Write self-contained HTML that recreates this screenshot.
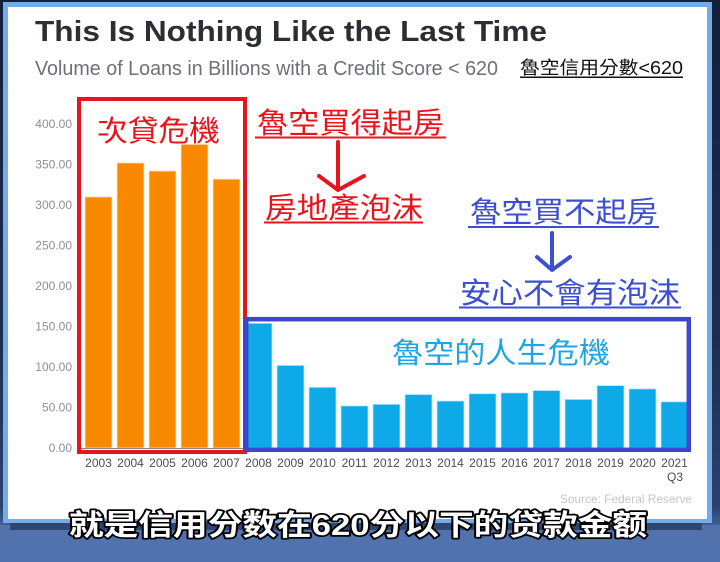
<!DOCTYPE html>
<html><head><meta charset="utf-8"><style>
html,body{margin:0;padding:0;width:720px;height:562px;overflow:hidden;background:#1b2945;}
svg{display:block;}
</style></head><body>
<svg width="720" height="562" viewBox="0 0 720 562" xmlns="http://www.w3.org/2000/svg">
<defs>
<linearGradient id="bg" x1="0" y1="0" x2="0" y2="1">
<stop offset="0" stop-color="#142039"/>
<stop offset="0.6" stop-color="#1d2d4d"/>
<stop offset="0.9" stop-color="#2a4170"/>
<stop offset="0.95" stop-color="#4a6ba6"/>
<stop offset="1" stop-color="#5c7db8"/>
</linearGradient>
</defs>
<rect x="0" y="0" width="720" height="562" fill="url(#bg)"/>
<rect x="0" y="525" width="720" height="37" fill="#5272ad"/>
<rect x="10" y="522" width="692" height="8" fill="#2f4574"/>
<!-- panel -->
<rect x="3" y="2" width="709" height="521" fill="#74acea"/>
<rect x="8" y="7" width="699" height="512" fill="#ffffff"/>

<!-- title -->
<text x="35" y="41" font-family="Liberation Sans, Arial, sans-serif" font-weight="bold" font-size="29" fill="#2b2e33" textLength="512" lengthAdjust="spacingAndGlyphs">This Is Nothing Like the Last Time</text>
<text x="35" y="75" font-family="Liberation Sans, Arial, sans-serif" font-size="20" fill="#6d7075" textLength="463" lengthAdjust="spacingAndGlyphs">Volume of Loans in Billions with a Credit Score &lt; 620</text>
<text x="520" y="74" font-family="Liberation Sans, 'Noto Sans CJK TC', sans-serif" font-size="18" fill="#111" textLength="163" lengthAdjust="spacingAndGlyphs">魯空信用分數&lt;620</text>
<rect x="520" y="76.5" width="163" height="1.5" fill="#111"/>

<!-- y axis labels -->
<g font-family="Liberation Sans, Arial, sans-serif" font-size="12" fill="#8c8f94" text-anchor="end">
<text x="72" y="452">0.00</text>
<text x="72" y="411.5">50.00</text>
<text x="72" y="371">100.00</text>
<text x="72" y="330.5">150.00</text>
<text x="72" y="290">200.00</text>
<text x="72" y="249.5">250.00</text>
<text x="72" y="209">300.00</text>
<text x="72" y="168.5">350.00</text>
<text x="72" y="128">400.00</text>
</g>

<!-- bars -->
<g fill="#f98a00" stroke="#fde4bf" stroke-width="0.8">
<rect x="85" y="196.9" width="27" height="251.1"/>
<rect x="117" y="162.9" width="27" height="285.1"/>
<rect x="149" y="171" width="27" height="277"/>
<rect x="181" y="144.3" width="27" height="303.7"/>
<rect x="213" y="179.1" width="27" height="268.9"/>
</g>
<g fill="#0eaae7" stroke="#bfe6f7" stroke-width="0.8">
<rect x="245" y="323.3" width="27" height="124.7"/>
<rect x="277" y="365.4" width="27" height="82.6"/>
<rect x="309" y="387.3" width="27" height="60.7"/>
<rect x="341" y="405.9" width="27" height="42.1"/>
<rect x="373" y="404.3" width="27" height="43.7"/>
<rect x="405" y="394.5" width="27" height="53.5"/>
<rect x="437" y="401" width="27" height="47"/>
<rect x="469" y="393.7" width="27" height="54.3"/>
<rect x="501" y="392.9" width="27" height="55.1"/>
<rect x="533" y="390.5" width="27" height="57.5"/>
<rect x="565" y="399.4" width="27" height="48.6"/>
<rect x="597" y="385.6" width="27" height="62.4"/>
<rect x="629" y="388.9" width="27" height="59.1"/>
<rect x="661" y="401.8" width="27" height="46.2"/>
</g>
<line x1="80" y1="448.5" x2="690" y2="448.5" stroke="#8a8a8a" stroke-width="1"/>

<!-- x labels -->
<g font-family="Liberation Sans, Arial, sans-serif" font-size="12" fill="#4a4d52" text-anchor="middle">
<text x="98.5" y="467">2003</text>
<text x="130.5" y="467">2004</text>
<text x="162.5" y="467">2005</text>
<text x="194.5" y="467">2006</text>
<text x="226.5" y="467">2007</text>
<text x="258.5" y="467">2008</text>
<text x="290.5" y="467">2009</text>
<text x="322.5" y="467">2010</text>
<text x="354.5" y="467">2011</text>
<text x="386.5" y="467">2012</text>
<text x="418.5" y="467">2013</text>
<text x="450.5" y="467">2014</text>
<text x="482.5" y="467">2015</text>
<text x="514.5" y="467">2016</text>
<text x="546.5" y="467">2017</text>
<text x="578.5" y="467">2018</text>
<text x="610.5" y="467">2019</text>
<text x="642.5" y="467">2020</text>
<text x="674.5" y="467">2021</text>
<text x="675" y="481">Q3</text>
</g>
<text x="560" y="503" font-family="Liberation Sans, Arial, sans-serif" font-size="12" fill="#c3c6ca" textLength="132" lengthAdjust="spacingAndGlyphs">Source: Federal Reserve</text>

<!-- boxes -->
<rect x="79" y="99" width="166" height="353" fill="none" stroke="#e8141c" stroke-width="4"/>
<rect x="246.2" y="319.2" width="442.6" height="130.6" fill="none" stroke="#3e47cc" stroke-width="4.5"/>

<!-- annotations -->
<g font-family="'Noto Sans CJK TC', 'Noto Sans CJK SC', sans-serif">
<text x="97" y="141" font-size="29" fill="#e8141c" textLength="123" lengthAdjust="spacingAndGlyphs">次貸危機</text>

<text x="257" y="133" font-size="29" fill="#e8141c" textLength="187" lengthAdjust="spacingAndGlyphs">魯空買得起房</text>
<rect x="255" y="136.5" width="191" height="2" fill="#e8141c"/>
<text x="265" y="218" font-size="29" fill="#e8141c" textLength="158" lengthAdjust="spacingAndGlyphs">房地產泡沫</text>
<rect x="264" y="221.5" width="159" height="2" fill="#e8141c"/>

<text x="470" y="222" font-size="29" fill="#3c4fd0" textLength="188" lengthAdjust="spacingAndGlyphs">魯空買不起房</text>
<rect x="468" y="226" width="191" height="2" fill="#3c4fd0"/>
<text x="460" y="303" font-size="29" fill="#3c4fd0" textLength="220" lengthAdjust="spacingAndGlyphs">安心不會有泡沫</text>
<rect x="459" y="306.5" width="222" height="2" fill="#3c4fd0"/>

<text x="392" y="363" font-size="29" fill="#1ea5e3" textLength="218" lengthAdjust="spacingAndGlyphs">魯空的人生危機</text>
</g>

<!-- arrows -->
<g fill="none" stroke="#e8141c" stroke-width="4" stroke-linecap="round" stroke-linejoin="round">
<line x1="338" y1="142" x2="338" y2="189"/>
<polyline points="319,176 338,190 364,176"/>
</g>
<g fill="none" stroke="#3c4fd0" stroke-width="4" stroke-linecap="round" stroke-linejoin="round">
<line x1="552" y1="233" x2="552" y2="269"/>
<polyline points="537,257 552,270 570,257"/>
</g>

<!-- caption -->
<text x="69" y="535" font-family="Liberation Sans, 'Noto Sans CJK SC', sans-serif" font-size="29" font-weight="bold" fill="#ffffff" stroke="#000" stroke-width="3.5" paint-order="stroke" stroke-linejoin="round" textLength="578" lengthAdjust="spacingAndGlyphs">就是信用分数在620分以下的贷款金额</text>
</svg>
</body></html>
